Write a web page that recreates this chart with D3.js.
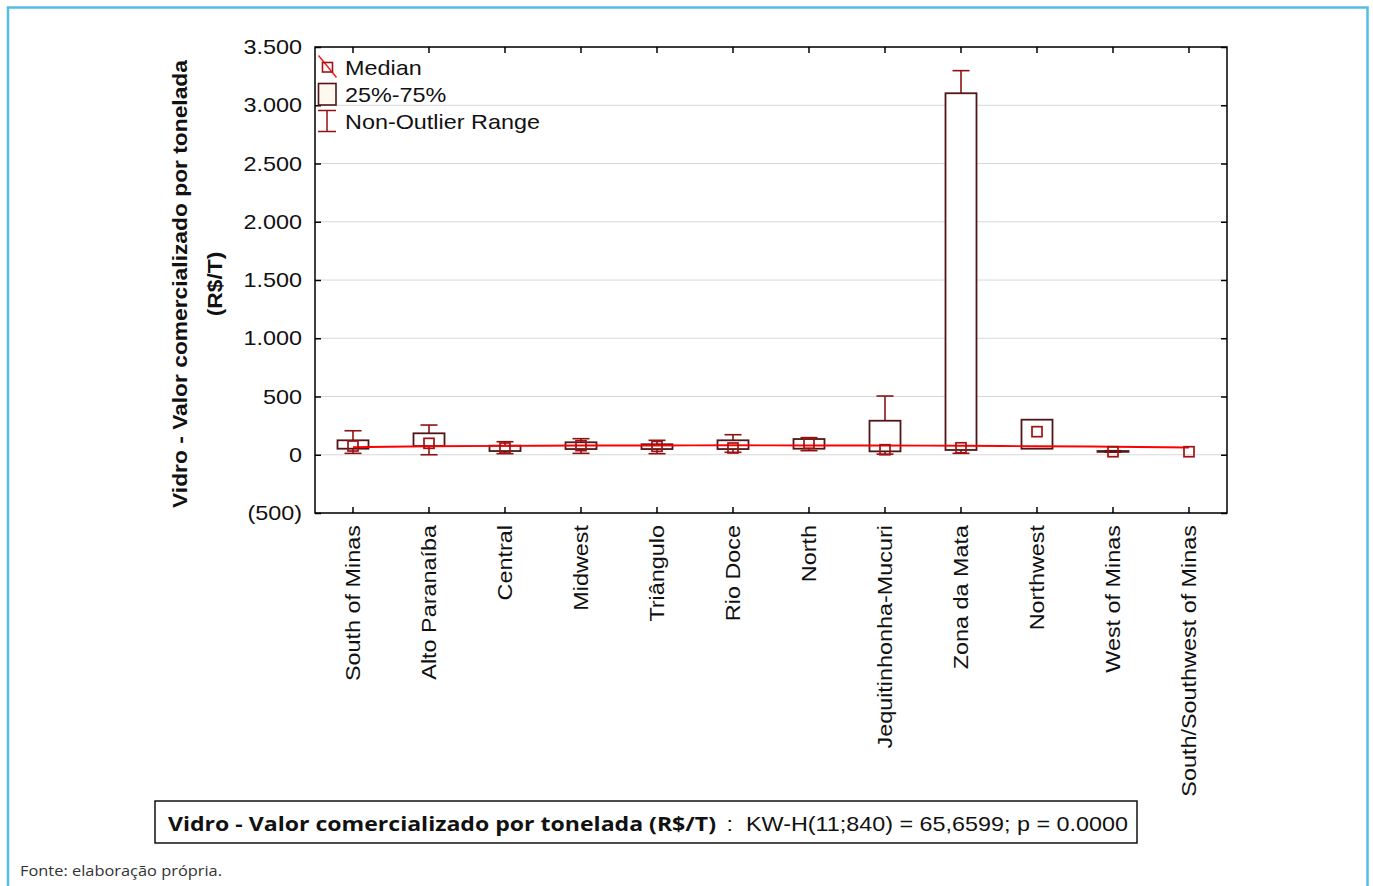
<!DOCTYPE html>
<html><head><meta charset="utf-8">
<script src="https://cdn.jsdelivr.net/npm/d3@7"></script>
<style>
body{margin:0;background:#fff;}
svg{display:block;}
</style></head>
<body>
<svg id="chart" width="1373" height="886"></svg>
<script>
const categories = ["South of Minas","Alto Paranaíba","Central","Midwest","Triângulo","Rio Doce","North","Jequitinhonha-Mucuri","Zona da Mata","Northwest","West of Minas","South/Southwest of Minas"];
const medianVals = [75, 98, 58, 78, 72, 58, 98, 43, 60, 198, 26, 26];
const q1Vals     = [52, 75, 32, 49, 49, 49, 52, 29, 41, 52, 25, null];
const q3Vals     = [124, 184, 78, 107, 90, 124, 135, 292, 3103, 301, 32, null];
const minVals    = [12, 0, 9, 12, 9, 21, 35, 5, 12, null, 22, null];
const maxVals    = [206, 255, 112, 138, 124, 172, 147, 504, 3297, null, 35, null];
const trendVals  = [64, 73, 76, 79, 80, 81, 80, 79, 77, 73, 69, 62];
const yTicks = [-500, 0, 500, 1000, 1500, 2000, 2500, 3000, 3500];
const legendLabels = ["Median", "25%-75%", "Non-Outlier Range"];
const statsTitle = "Vidro - Valor comercializado por tonelada (R$/T)";
const statsText = " :  KW-H(11;840) = 65,6599; p = 0.0000";
const yTitle = ["Vidro - Valor comercializado por tonelada", "(R$/T)"];
const sourceText = "Fonte: elaboração própria.";

const svg = d3.select("#chart");
const L = 315, R = 1227, T = 47, B = 513;
const FONT = "'Liberation Sans', Arial, sans-serif";
const SX = 1.17;

function addText(parent, px, py, rot, str, o = {}) {
  const t = parent.append("text")
    .attr("transform", `translate(${px},${py}) rotate(${rot}) scale(${o.sx || SX},1)`)
    .attr("font-family", o.family || FONT).attr("font-size", o.size || 20)
    .attr("font-weight", o.weight || "normal").attr("fill", o.fill || "#111")
    .attr("text-anchor", o.anchor || "start");
  if (o.dy) t.attr("dy", o.dy);
  t.text(str);
  return t;
}

// outer frame
svg.append("path").attr("d", "M8,900 L8,7.5 L1367.5,7.5 L1367.5,900")
  .attr("fill", "none").attr("stroke", "#55bde4").attr("stroke-width", 2.5);

const x = d3.scaleBand().domain(categories).range([L, R]);
const y = d3.scaleLinear().domain([-500, 3500]).range([B, T]);
const cx = c => x(c) + x.bandwidth() / 2;

// grid
svg.append("g").selectAll("line").data(yTicks).join("line")
  .attr("x1", L).attr("x2", R).attr("y1", d => y(d)).attr("y2", d => y(d))
  .attr("stroke", "#d8d8d8").attr("stroke-width", 1);

const fmt = d => {
  const s = d3.format(",")(Math.abs(d)).replace(/,/g, ".");
  return d < 0 ? "(" + s + ")" : s;
};

const axL = svg.append("g").attr("transform", `translate(${L},0)`)
  .call(d3.axisLeft(y).tickValues(yTicks).tickSize(-6).tickFormat(""));
const axR = svg.append("g").attr("transform", `translate(${R},0)`)
  .call(d3.axisRight(y).tickValues(yTicks).tickSize(-6).tickFormat(""));
const axB = svg.append("g").attr("transform", `translate(0,${B})`)
  .call(d3.axisBottom(x).tickSize(-6).tickFormat(""));
const axT = svg.append("g").attr("transform", `translate(0,${T})`)
  .call(d3.axisTop(x).tickSize(-6).tickFormat(""));
[axL, axR, axB, axT].forEach(a => {
  a.select(".domain").remove();
  a.selectAll(".tick line").attr("stroke", "#000").attr("stroke-width", 1.5);
  a.selectAll("text").remove();
});
svg.append("rect").attr("x", L).attr("y", T).attr("width", R - L).attr("height", B - T)
  .attr("fill", "none").attr("stroke", "#000").attr("stroke-width", 1.5);

// y tick labels
const yl = svg.append("g");
yTicks.forEach(v => addText(yl, 302, y(v), 0, fmt(v), {anchor: "end", dy: "0.35em"}));

// x labels
const xl = svg.append("g");
categories.forEach(c => addText(xl, cx(c), 525, -90, c, {anchor: "end", dy: "0.35em"}));

// y title
addText(svg, 180, 284, -90, yTitle[0], {anchor: "middle", dy: "0.35em", weight: "bold", sx: 1.14});
addText(svg, 215, 284, -90, yTitle[1], {anchor: "middle", dy: "0.35em", weight: "bold", sx: 1.14});

const data = categories.map((c, i) => ({c, med: medianVals[i], q1: q1Vals[i], q3: q3Vals[i], mn: minVals[i], mx: maxVals[i]}));
const BOXW = 31, CAPW = 17, MS = 10;
const WH = "#8e1212", BOXC = "#521616", MEDC = "#a01212";

const g = svg.append("g");
data.forEach(d => {
  const X = cx(d.c);
  if (d.mx != null && d.q3 != null) {
    g.append("line").attr("x1", X).attr("x2", X).attr("y1", y(d.mx)).attr("y2", y(d.q3)).attr("stroke", WH).attr("stroke-width", 1.6);
    g.append("line").attr("x1", X - CAPW/2).attr("x2", X + CAPW/2).attr("y1", y(d.mx)).attr("y2", y(d.mx)).attr("stroke", WH).attr("stroke-width", 1.6);
  }
  if (d.mn != null && d.q1 != null) {
    g.append("line").attr("x1", X).attr("x2", X).attr("y1", y(d.q1)).attr("y2", y(d.mn)).attr("stroke", WH).attr("stroke-width", 1.6);
    g.append("line").attr("x1", X - CAPW/2).attr("x2", X + CAPW/2).attr("y1", y(d.mn)).attr("y2", y(d.mn)).attr("stroke", WH).attr("stroke-width", 1.6);
  }
  if (d.q1 != null && d.q3 != null) {
    g.append("rect").attr("x", X - BOXW/2).attr("y", y(d.q3)).attr("width", BOXW)
      .attr("height", Math.max(0.5, y(d.q1) - y(d.q3)))
      .attr("fill", "#fff").attr("stroke", BOXC).attr("stroke-width", 1.8);
  }
});

// trend line
const line = d3.line().x((d, i) => cx(categories[i])).y(d => y(d)).curve(d3.curveMonotoneX);
svg.append("path").datum(trendVals).attr("d", line).attr("fill", "none")
  .attr("stroke", "#ff0000").attr("stroke-width", 1.9);

// medians
svg.append("g").selectAll("rect").data(data).join("rect")
  .attr("x", d => cx(d.c) - MS/2).attr("y", d => y(d.med) - MS/2)
  .attr("width", MS).attr("height", MS).attr("fill", "none")
  .attr("stroke", MEDC).attr("stroke-width", 1.7);

// legend
const lg = svg.append("g");
lg.append("line").attr("x1", 318.5).attr("y1", 55.5).attr("x2", 336.5).attr("y2", 77.5).attr("stroke", "#ff1a1a").attr("stroke-width", 1.5);
lg.append("rect").attr("x", 322.5).attr("y", 62.5).attr("width", 10).attr("height", 9.5).attr("fill", "none").attr("stroke", MEDC).attr("stroke-width", 1.6);
lg.append("rect").attr("x", 318.5).attr("y", 83.5).attr("width", 17.5).attr("height", 21.5).attr("fill", "#fff8ee").attr("stroke", BOXC).attr("stroke-width", 1.6);
lg.append("line").attr("x1", 327).attr("x2", 327).attr("y1", 110.5).attr("y2", 131.5).attr("stroke", WH).attr("stroke-width", 1.5);
lg.append("line").attr("x1", 318).attr("x2", 336).attr("y1", 110.5).attr("y2", 110.5).attr("stroke", WH).attr("stroke-width", 1.5);
lg.append("line").attr("x1", 318).attr("x2", 336).attr("y1", 131.5).attr("y2", 131.5).attr("stroke", WH).attr("stroke-width", 1.5);
legendLabels.forEach((d, i) => addText(lg, 345, 75 + i * 27, 0, d));

// stats box
svg.append("rect").attr("x", 155).attr("y", 801).attr("width", 982).attr("height", 42)
  .attr("fill", "#fff").attr("stroke", "#111").attr("stroke-width", 1.5);
svg.append("text").attr("x", 168).attr("y", 831).attr("font-size", 20).attr("fill", "#111")
  .attr("font-family", "'Open Sans', sans-serif").attr("font-weight", "bold")
  .attr("textLength", 548).attr("lengthAdjust", "spacingAndGlyphs").text(statsTitle);
svg.append("text").attr("x", 720).attr("y", 831).attr("font-size", 21).attr("fill", "#111")
  .attr("font-family", FONT).attr("xml:space", "preserve")
  .attr("textLength", 408).attr("lengthAdjust", "spacingAndGlyphs").text(statsText);

svg.append("text").attr("x", 20).attr("y", 876).attr("font-family", "'Open Sans', sans-serif")
  .attr("font-size", 15).attr("fill", "#333").attr("textLength", 202).attr("lengthAdjust", "spacingAndGlyphs")
  .text(sourceText);
</script>
</body></html>
